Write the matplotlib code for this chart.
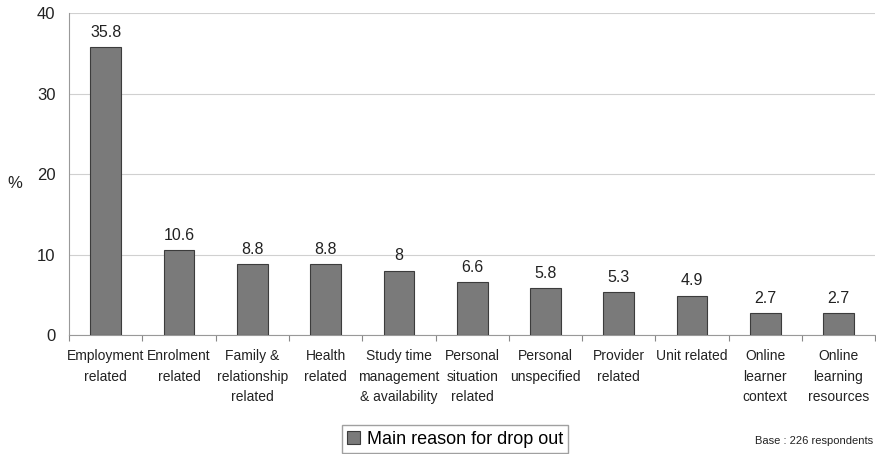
import matplotlib.pyplot as plt
import numpy as np

plt.rcParams['font.family'] = ['Liberation Sans', 'DejaVu Sans']

categories = ['Employment\nrelated', 'Enrolment\nrelated', 'Family &\nrelationship\nrelated',
              'Health\nrelated', 'Study time\nmanagement\n& availability', 'Personal\nsituation\nrelated',
              'Personal\nunspecified', 'Provider\nrelated', 'Unit related',
              'Online\nlearner\ncontext', 'Online\nlearning\nresources']
values = [35.8, 10.6, 8.8, 8.8, 8, 6.6, 5.8, 5.3, 4.9, 2.7, 2.7]
value_labels = ['35.8', '10.6', '8.8', '8.8', '8', '6.6', '5.8', '5.3', '4.9', '2.7', '2.7']
yticks = [0, 10, 20, 30, 40]

fig = plt.figure(figsize=(8.76, 4.54), dpi=100)
ax = fig.add_axes([0.079, 0.262, 0.92, 0.709])

x = np.arange(len(categories))
bars = ax.bar(x, values, width=0.42, color='#7a7a7a', edgecolor='#3c3c3c', linewidth=0.8,
              label='Main reason for drop out', zorder=3)

for xi, v, lab in zip(x, values, value_labels):
    ax.text(xi, v + 0.9, lab, ha='center', va='bottom', fontsize=11.5, color='#222222')

ax.set_xlim(-0.5, len(categories) - 0.5)
ax.set_ylim(0, 40)
ax.set_yticks(yticks)
ax.yaxis.grid(True, color='#d0d0d0', linewidth=0.8, zorder=0)
ax.tick_params(axis='y', length=0, labelsize=12, pad=10, colors='#222222')

ax.set_xticks(np.arange(len(categories) + 1) - 0.5, minor=False)
ax.set_xticklabels([''] * (len(categories) + 1))
ax.set_xticks(x, minor=True)
ax.set_xticklabels(categories, minor=True, fontsize=10, color='#222222', linespacing=1.6)
ax.tick_params(axis='x', which='major', length=4, color='#888888', direction='out')
ax.tick_params(axis='x', which='minor', length=0, pad=10)

for s in ['top', 'right']:
    ax.spines[s].set_visible(False)
ax.spines['left'].set_color('#999999')
ax.spines['bottom'].set_color('#999999')

ax.set_ylabel('%', rotation=0, fontsize=12, color='#222222', ha='center', va='center')
ax.yaxis.set_label_coords(-0.067, 0.47)

fig.legend(handles=[bars], labels=['Main reason for drop out'], loc='center',
           bbox_to_anchor=(455 / 876, 1 - 439 / 454), fontsize=13, frameon=True,
           fancybox=False, edgecolor='#888888', handlelength=0.7, handleheight=0.7,
           handletextpad=0.4, borderpad=0.3)

fig.text(873 / 876, 1 - 441 / 454, 'Base : 226 respondents', ha='right', va='center',
         fontsize=8, color='#222222')

fig.savefig('out.png', dpi=100)
